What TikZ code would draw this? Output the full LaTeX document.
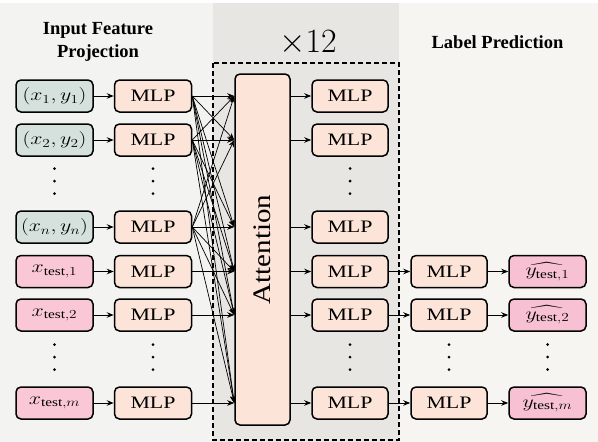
\RequirePackage{fix-cm}
\documentclass[tikz,border=0pt]{standalone}
\usepackage{amsmath}
\usepackage[no-math]{fontspec}
\setmainfont{Liberation Serif}
\usetikzlibrary{arrows.meta,calc}
\definecolor{ctxc}{RGB}{213,225,220}
\definecolor{mlpc}{RGB}{253,228,216}
\definecolor{testc}{RGB}{249,199,214}
\definecolor{outc}{RGB}{247,193,211}
\definecolor{bgl}{RGB}{243,243,242}
\definecolor{bgm}{RGB}{232,230,226}
\definecolor{bgr}{RGB}{247,245,241}
\newcommand{\stretchx}[1]{\scalebox{1.25}[1]{#1}}
\begin{document}
\begin{tikzpicture}[x=1pt,y=-1pt,
  box/.style={draw=black, line width=1.5pt, rounded corners=5pt, minimum width=77pt, minimum height=32pt, inner sep=0pt, font=\fontsize{17.5}{19}\selectfont},
  ctx/.style={box, fill=ctxc},
  mlp/.style={box, fill=mlpc},
  tst/.style={box, fill=testc},
  outb/.style={box, fill=outc},
  arr/.style={line width=1pt, -{Stealth[length=7pt,width=5.5pt]}},
  xarr/.style={line width=0.7pt, -{Stealth[length=7pt,width=5.5pt]}},
  title/.style={font=\fontsize{18.5}{23.3}\selectfont\bfseries, align=center, inner sep=0pt},
  dot/.style={circle, fill=black, inner sep=0pt, minimum size=3pt}
]
\useasboundingbox (0,0) rectangle (598,442);
\fill[white] (0,0) rectangle (598,442);
\fill[bgl] (0,3) rectangle (213,442);
\fill[bgm] (213,3) rectangle (399,442);
\fill[bgr] (399,3) rectangle (598,442);

\draw[line width=1.5pt, dash pattern=on 5pt off 3pt] (213,63) rectangle (399,440);

% titles
\node[title] (tin) at (98,42) {Input Feature\\Projection};
\node[title, anchor=base] (tlab) at (497.5,48.3) {Label Prediction};
\node[font=\fontsize{34}{40}\selectfont, anchor=base, inner sep=0pt] (trep) at (308,52) {$\times 12$};

% column 1
\node[ctx] (in1) at (54.5,96) {\stretchx{$(x_1,y_1)$}};
\node[ctx] (in2) at (54.5,140) {\stretchx{$(x_2,y_2)$}};
\node[ctx] (inn) at (54.5,227) {\stretchx{$(x_n,y_n)$}};
\node[tst] (it1) at (54.5,271.5) {\stretchx{$x_{\text{test},1}$}};
\node[tst] (it2) at (54.5,315) {\stretchx{$x_{\text{test},2}$}};
\node[tst] (itm) at (54.5,403) {\stretchx{$x_{\text{test},m}$}};

% column 2
\node[mlp] (p1) at (153,96) {\stretchx{MLP}};
\node[mlp] (p2) at (153,140) {\stretchx{MLP}};
\node[mlp] (pn) at (153,227) {\stretchx{MLP}};
\node[mlp] (pt1) at (153,271.5) {\stretchx{MLP}};
\node[mlp] (pt2) at (153,315) {\stretchx{MLP}};
\node[mlp] (ptm) at (153,403) {\stretchx{MLP}};

% attention
\node[mlp, minimum width=55pt, minimum height=351pt, font=\fontsize{29}{32}\selectfont] (att) at (262.5,249.5) {\rotatebox{90}{\scalebox{1}[0.87]{Attention}}};

% column 3
\node[mlp, minimum width=76pt] (q1) at (350,96) {\stretchx{MLP}};
\node[mlp, minimum width=76pt] (q2) at (350,140) {\stretchx{MLP}};
\node[mlp, minimum width=76pt] (qn) at (350,227) {\stretchx{MLP}};
\node[mlp, minimum width=76pt] (qt1) at (350,271.5) {\stretchx{MLP}};
\node[mlp, minimum width=76pt] (qt2) at (350,315) {\stretchx{MLP}};
\node[mlp, minimum width=76pt] (qtm) at (350,403) {\stretchx{MLP}};

% column 4
\node[mlp, minimum width=76pt] (rt1) at (449,271.5) {\stretchx{MLP}};
\node[mlp, minimum width=76pt] (rt2) at (449,315) {\stretchx{MLP}};
\node[mlp, minimum width=76pt] (rtm) at (449,403) {\stretchx{MLP}};

% column 5
\node[outb] (ot1) at (547.5,271.5) {\stretchx{$\widehat{y_{\text{test},1}}$}};
\node[outb] (ot2) at (547.5,315) {\stretchx{$\widehat{y_{\text{test},2}}$}};
\node[outb] (otm) at (547.5,403) {\stretchx{$\widehat{y_{\text{test},m}}$}};

% dots
\foreach \cx in {54.5,153,350} {
  \foreach \cy in {181,357} {
    \foreach \dd in {-12.5,0,12.5} {
      \node[dot] at (\cx,\cy+\dd) {};
    }
  }
}
\foreach \cx in {449,547.5} {
  \foreach \dd in {-12.5,0,12.5} {
    \node[dot] at (\cx,357+\dd) {};
  }
}

% input -> MLP
\foreach \a/\b in {in1/p1,in2/p2,inn/pn,it1/pt1,it2/pt2,itm/ptm} {
  \draw[arr] (\a) -- (\b);
}
% MLP -> attention
\foreach \s in {p1,p2,pn} {
  \foreach \t in {p1,p2,pn,pt1,pt2,ptm} {
    \draw[xarr] (\s.east) -- (att.west |- \t.east);
  }
}
\foreach \s in {pt1,pt2,ptm} {
  \draw[xarr] (\s.east) -- (att.west |- \s.east);
}
% attention -> MLP
\foreach \t in {q1,q2,qn,qt1,qt2,qtm} {
  \draw[arr] (att.east |- \t.west) -- (\t.west);
}
% label prediction
\foreach \a/\b/\c in {qt1/rt1/ot1,qt2/rt2/ot2,qtm/rtm/otm} {
  \draw[arr] (\a) -- (\b);
  \draw[arr] (\b) -- (\c);
}
\end{tikzpicture}
\end{document}
